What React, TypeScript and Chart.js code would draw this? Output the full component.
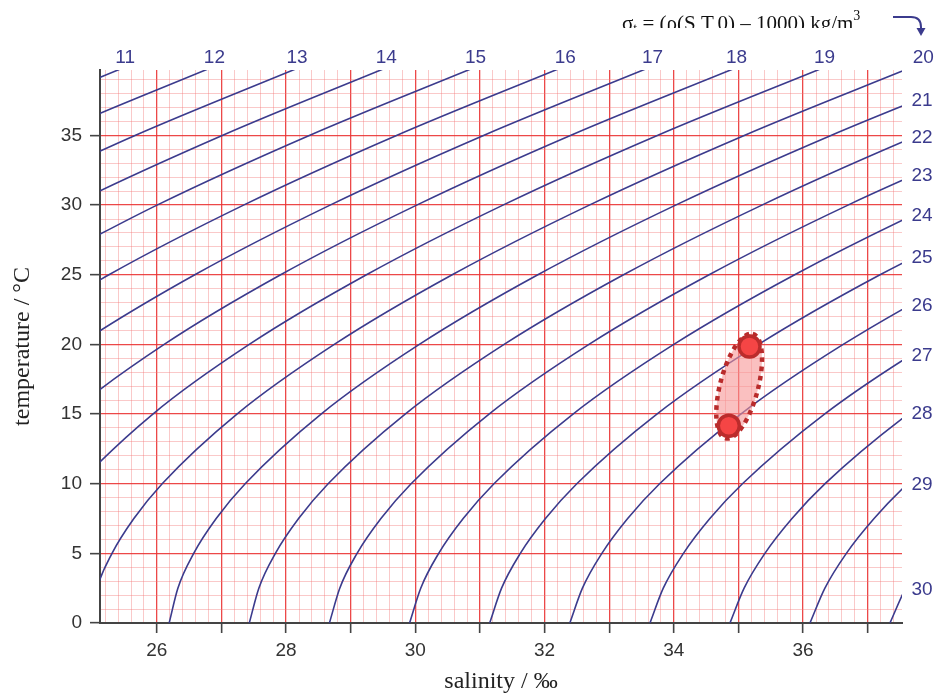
import React, { useEffect, useRef } from "react";
import { Chart, registerables } from "chart.js";

Chart.register(...registerables);

// Temperatures (°C) at which each isopycnal's salinity was read
const isoTemps = [0, 2.5, 5, 7.5, 10, 15, 20, 25, 30, 35, 40];

// Salinity (‰) of each sigma-t isopycnal at the temperatures above (null = off chart)
const sigma11 = [null, null, null, null, null, null, null, null, null, 22.965, 25.553];
const sigma12 = [null, null, null, null, null, null, null, null, 21.98, 24.313, 26.909];
const sigma13 = [null, null, null, null, null, null, null, null, 23.32, 25.662, 28.266];
const sigma14 = [null, null, null, null, null, null, null, 22.6, 24.662, 27.011, 29.622];
const sigma15 = [null, null, null, null, null, null, null, 23.929, 26.002, 28.359, 30.977];
const sigma16 = [null, null, null, null, null, null, 23.48, 25.258, 27.341, 29.708, 32.33];
const sigma17 = [null, null, null, null, null, 23.335, 24.797, 26.587, 28.68, 31.054, 33.683];
const sigma18 = [null, null, null, null, 23.51, 24.637, 26.113, 27.915, 30.02, 32.399, 35.036];
const sigma19 = [23.71, 23.819, 24.04, 24.369, 24.798, 25.938, 27.429, 29.243, 31.355, 33.744, 36.386];
const sigma20 = [24.95, 25.072, 25.306, 25.644, 26.082, 27.239, 28.745, 30.57, 32.691, 35.089, 37.736];
const sigma21 = [26.19, 26.325, 26.57, 26.918, 27.366, 28.541, 30.061, 31.895, 34.027, 36.431, 39.086];
const sigma22 = [27.43, 27.578, 27.834, 28.193, 28.65, 29.842, 31.373, 33.221, 35.362, 37.773, 40.44];
const sigma23 = [28.67, 28.83, 29.098, 29.467, 29.934, 31.14, 32.686, 34.545, 36.694, 39.114, null];
const sigma24 = [29.91, 30.083, 30.361, 30.74, 31.216, 32.439, 33.999, 35.869, 38.027, 40.46, null];
const sigma25 = [31.15, 31.334, 31.624, 32.013, 32.498, 33.737, 35.31, 37.19, 39.36, null, null];
const sigma26 = [32.39, 32.585, 32.886, 33.285, 33.779, 35.035, 36.62, 38.512, 40.69, null, null];
const sigma27 = [33.63, 33.836, 34.148, 34.557, 35.061, 36.331, 37.93, 39.83, null, null, null];
const sigma28 = [34.868, 35.087, 35.409, 35.828, 36.34, 37.627, 39.24, null, null, null, null];
const sigma29 = [36.106, 36.337, 36.669, 37.098, 37.62, 38.92, null, null, null, null, null];
const sigma30 = [37.344, 37.586, 37.929, 38.368, 38.899, null, null, null, null, null, null];

const isoSalinities = [
  sigma11, sigma12, sigma13, sigma14, sigma15, sigma16, sigma17, sigma18, sigma19, sigma20,
  sigma21, sigma22, sigma23, sigma24, sigma25, sigma26, sigma27, sigma28, sigma29, sigma30,
];

// Isopycnal labels along the top edge (sigma value, salinity position)
const topLabelSigma = [11, 12, 13, 14, 15, 16, 17, 18, 19, 20];
const topLabelSalinity = [25.51, 26.89, 28.17, 29.55, 30.93, 32.32, 33.67, 34.97, 36.33, 37.86];
// Isopycnal labels along the right edge (sigma value, temperature position)
const rightLabelSigma = [21, 22, 23, 24, 25, 26, 27, 28, 29, 30];
const rightLabelTemp = [37.5, 34.85, 32.1, 29.25, 26.2, 22.8, 19.2, 15.0, 9.9, 2.4];

// Water samples
const sampleSalinity = [34.85, 35.17];
const sampleTemp = [14.16, 19.85];

// Axis
const xMin = 25.12;
const xMax = 37.53;
const yMin = 0;
const yMax = 39.7;
const xTickLabels = [26, 28, 30, 32, 34, 36];
const yTickLabels = [0, 5, 10, 15, 20, 25, 30, 35];

const ISO_COLOR = "#3b3b8d";
const isInt = (v: number) => Math.abs(v - Math.round(v)) < 1e-6;
const isFive = (v: number) => isInt(v / 5);

const overlayPlugin = {
  id: "overlay",
  beforeDatasetDraw(chart: any, args: any) {
    if (args.index !== isoSalinities.length) return;
    const xs = chart.scales.x;
    const ys = chart.scales.y;
    const x1 = xs.getPixelForValue(sampleSalinity[0]);
    const y1 = ys.getPixelForValue(sampleTemp[0]);
    const x2 = xs.getPixelForValue(sampleSalinity[1]);
    const y2 = ys.getPixelForValue(sampleTemp[1]);
    const cx = (x1 + x2) / 2;
    const cy = (y1 + y2) / 2;
    const ang = Math.atan2(y2 - y1, x2 - x1);
    const half = Math.hypot(x2 - x1, y2 - y1) / 2;
    const ctx = chart.ctx;
    ctx.save();
    ctx.beginPath();
    ctx.ellipse(cx, cy, half + 13, 19, ang, 0, Math.PI * 2);
    ctx.fillStyle = "rgba(247, 150, 150, 0.6)";
    ctx.fill();
    ctx.setLineDash([4.5, 4.5]);
    ctx.lineWidth = 4.5;
    ctx.strokeStyle = "#b92b2b";
    ctx.stroke();
    ctx.restore();
  },
  afterDraw(chart: any) {
    const ctx = chart.ctx;
    const xs = chart.scales.x;
    const ys = chart.scales.y;
    const area = chart.chartArea;
    ctx.save();
    ctx.fillStyle = ISO_COLOR;
    ctx.font = '19px "Liberation Sans", Arial, sans-serif';
    ctx.textAlign = "center";
    ctx.textBaseline = "middle";
    topLabelSigma.forEach((s, i) => {
      ctx.fillText(String(s), xs.getPixelForValue(topLabelSalinity[i]), area.top - 12);
    });
    rightLabelSigma.forEach((s, i) => {
      ctx.fillText(String(s), area.right + 20, ys.getPixelForValue(rightLabelTemp[i]));
    });
    ctx.restore();

    // formula title (clipped at the bottom like the reference)
    ctx.save();
    ctx.beginPath();
    ctx.rect(0, 0, chart.width, 28);
    ctx.clip();
    ctx.fillStyle = "#111";
    ctx.textBaseline = "alphabetic";
    ctx.textAlign = "left";
    let x = 622;
    const base = 30;
    const big = '21px "Liberation Serif", "Times New Roman", serif';
    const small = '14px "Liberation Serif", "Times New Roman", serif';
    ctx.font = big;
    ctx.fillText("σ", x, base);
    x += ctx.measureText("σ").width;
    ctx.font = small;
    ctx.fillText("t", x, base + 3);
    x += ctx.measureText("t").width;
    ctx.font = big;
    const mid = " = (ρ(S,T,0) – 1000) kg/m";
    ctx.fillText(mid, x, base);
    x += ctx.measureText(mid).width;
    ctx.font = small;
    ctx.fillText("3", x, base - 10);
    ctx.restore();

    // arrow
    ctx.save();
    ctx.strokeStyle = ISO_COLOR;
    ctx.fillStyle = ISO_COLOR;
    ctx.lineWidth = 2;
    ctx.beginPath();
    ctx.moveTo(893, 17);
    ctx.lineTo(911, 17);
    ctx.quadraticCurveTo(921, 17, 921, 27);
    ctx.lineTo(921, 29);
    ctx.stroke();
    ctx.beginPath();
    ctx.moveTo(916.5, 28);
    ctx.lineTo(925.5, 28);
    ctx.lineTo(921, 36);
    ctx.closePath();
    ctx.fill();
    ctx.restore();
  },
};

export default function App() {
  const ref = useRef<HTMLCanvasElement | null>(null);

  useEffect(() => {
    if (!ref.current) return;
    const isoDatasets = isoSalinities.map((arr, k) => ({
      label: "σt " + (11 + k),
      data: arr
        .map((s, i) => (s === null ? null : { x: s as number, y: isoTemps[i] }))
        .filter((p) => p !== null),
      showLine: true,
      borderColor: ISO_COLOR,
      borderWidth: 1.6,
      pointRadius: 0,
      cubicInterpolationMode: "monotone" as const,
      fill: false,
      order: 1,
    }));
    const sampleDataset = {
      label: "samples",
      data: sampleSalinity.map((s, i) => ({ x: s, y: sampleTemp[i] })),
      showLine: false,
      pointRadius: 10.5,
      pointBorderWidth: 3.5,
      pointBackgroundColor: "#f54545",
      pointBorderColor: "#bb2c2c",
      clip: false as const,
      order: 0,
    };
    const chart = new Chart(ref.current, {
      type: "scatter",
      data: { datasets: [...isoDatasets, sampleDataset] as any },
      options: {
        responsive: false,
        animation: false,
        layout: { padding: { left: 0, right: 34, top: 70, bottom: 0 } },
        plugins: { legend: { display: false }, tooltip: { enabled: false } },
        scales: {
          x: {
            type: "linear",
            min: xMin,
            max: xMax,
            afterFit: (scale: any) => {
              scale.height = 70;
            },
            ticks: {
              stepSize: 0.2,
              autoSkip: false,
              includeBounds: false,
              maxRotation: 0,
              padding: 6,
              color: "#333",
              font: { family: '"Liberation Sans", Arial, sans-serif', size: 19 },
              callback: (v: any) => {
                const n = Number(v);
                return xTickLabels.some((t) => Math.abs(t - n) < 1e-6) ? String(Math.round(n)) : "";
              },
            },
            grid: {
              color: (c: any) => (isInt(c.tick.value) ? "rgba(234, 52, 52, 0.9)" : "rgba(242, 120, 120, 0.4)"),
              lineWidth: (c: any) => (isInt(c.tick.value) ? 1.3 : 1),
              tickColor: (c: any) => (isInt(c.tick.value) ? "#444" : "rgba(0,0,0,0)"),
              tickLength: 10,
              tickWidth: 1.6,
            },
            border: { display: true, color: "#444", width: 2 },
            title: {
              display: true,
              text: "salinity / ‰",
              color: "#222",
              font: { family: '"Liberation Serif", "Times New Roman", serif', size: 24, lineHeight: 0.9 },
              padding: { top: 0, bottom: 0 },
            },
          },
          y: {
            type: "linear",
            min: yMin,
            max: yMax,
            afterFit: (scale: any) => {
              scale.width = 100;
            },
            ticks: {
              stepSize: 1,
              autoSkip: false,
              includeBounds: false,
              padding: 8,
              color: "#333",
              font: { family: '"Liberation Sans", Arial, sans-serif', size: 19 },
              callback: (v: any) => {
                const n = Number(v);
                return yTickLabels.some((t) => Math.abs(t - n) < 1e-6) ? String(Math.round(n)) : "";
              },
            },
            grid: {
              color: (c: any) => (isFive(c.tick.value) ? "rgba(234, 52, 52, 0.9)" : "rgba(242, 120, 120, 0.4)"),
              lineWidth: (c: any) => (isFive(c.tick.value) ? 1.3 : 1),
              tickColor: (c: any) => (isFive(c.tick.value) ? "#444" : "rgba(0,0,0,0)"),
              tickLength: 10,
              tickWidth: 1.6,
            },
            border: { display: true, color: "#444", width: 2 },
            title: {
              display: true,
              text: "temperature / °C",
              color: "#222",
              font: { family: '"Liberation Serif", "Times New Roman", serif', size: 24, lineHeight: 0.9 },
              padding: { top: 12, bottom: 0 },
            },
          },
        },
      },
      plugins: [overlayPlugin],
    });
    return () => chart.destroy();
  }, []);

  return (
    <div style={{ position: "fixed", left: 0, top: 0, width: 936, height: 693, background: "#fff" }}>
      <canvas ref={ref} width={936} height={693} style={{ display: "block" }} />
    </div>
  );
}
